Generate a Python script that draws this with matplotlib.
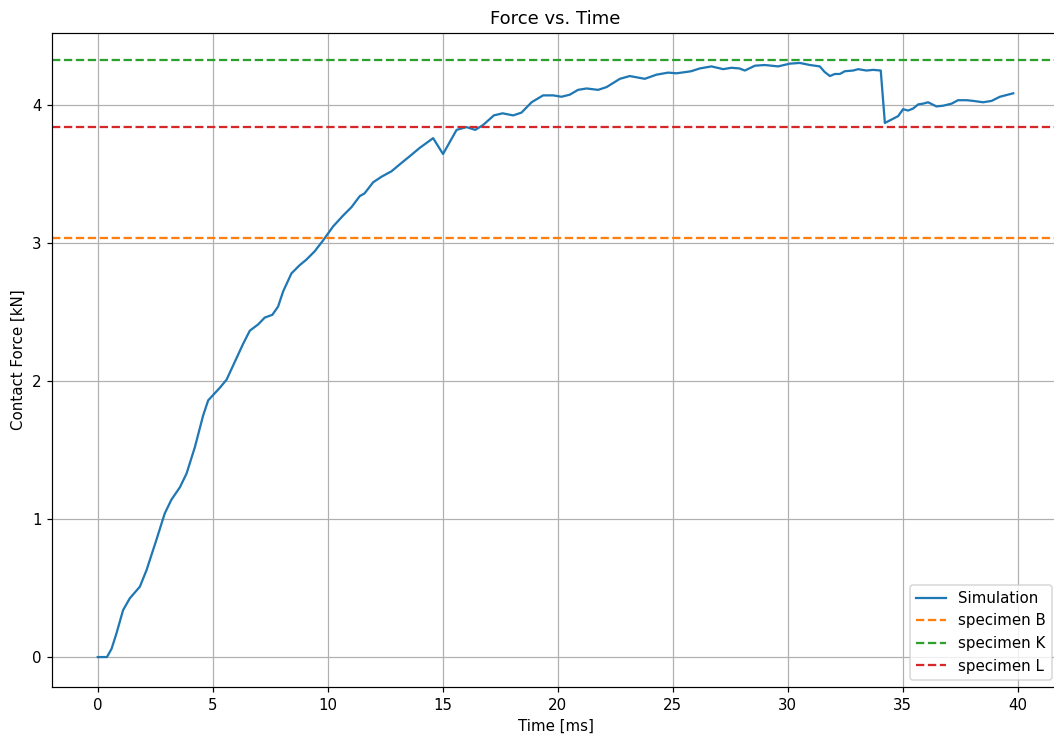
import matplotlib.pyplot as plt
import numpy as np

# simulated contact force over time
time_ms = [0.0, 0.4, 0.6, 0.81, 1.1, 1.39, 1.83, 2.12, 2.55, 2.91, 3.2, 3.57, 3.86,
           4.22, 4.58, 4.8, 5.3, 5.6, 5.96, 6.32, 6.61, 6.97, 7.26, 7.59, 7.84,
           8.06, 8.42, 8.78, 9.07, 9.43, 9.8, 10.23, 10.67, 11.03, 11.39, 11.6,
           11.97, 12.33, 12.77, 13.2, 13.57, 14.0, 14.58, 15.01, 15.6, 16.03,
           16.41, 16.75, 17.22, 17.6, 18.06, 18.42, 18.86, 19.36, 19.8, 20.16,
           20.52, 20.88, 21.25, 21.75, 22.12, 22.7, 23.13, 23.78, 24.29, 24.8,
           25.16, 25.6, 25.8, 26.17, 26.68, 27.19, 27.55, 27.9, 28.13, 28.57,
           29.0, 29.58, 30.09, 30.52, 30.96, 31.39, 31.6, 31.83, 32.04, 32.26,
           32.48, 32.84, 33.06, 33.42, 33.71, 34.04, 34.22, 34.8, 35.01, 35.23,
           35.45, 35.67, 35.88, 36.1, 36.46, 36.75, 37.12, 37.4, 37.77, 38.06,
           38.49, 38.86, 39.22, 39.8]
force_kn = [0.0, 0.0, 0.06, 0.17, 0.34, 0.425, 0.51, 0.63, 0.85, 1.04, 1.14, 1.23, 1.33,
            1.52, 1.75, 1.86, 1.95, 2.01, 2.14, 2.27, 2.365, 2.41, 2.46, 2.48, 2.54,
            2.65, 2.78, 2.84, 2.88, 2.94, 3.02, 3.12, 3.2, 3.26, 3.34, 3.36,
            3.44, 3.48, 3.52, 3.58, 3.63, 3.69, 3.76, 3.645, 3.82, 3.84,
            3.82, 3.855, 3.925, 3.94, 3.925, 3.945, 4.02, 4.07, 4.07, 4.06,
            4.075, 4.11, 4.12, 4.11, 4.13, 4.19, 4.21, 4.19, 4.22, 4.235,
            4.23, 4.24, 4.245, 4.265, 4.28, 4.26, 4.27, 4.265, 4.25, 4.285,
            4.29, 4.28, 4.3, 4.305, 4.29, 4.28, 4.24, 4.21, 4.225, 4.225,
            4.245, 4.25, 4.26, 4.25, 4.255, 4.25, 3.87, 3.92, 3.97, 3.96,
            3.975, 4.005, 4.01, 4.02, 3.99, 3.995, 4.01, 4.035, 4.035, 4.03,
            4.02, 4.03, 4.06, 4.085]

# measured peak forces of the test specimens
specimen_names = ['specimen B', 'specimen K', 'specimen L']
specimen_force = [3.04, 4.326, 3.841]
specimen_colors = ['tab:orange', 'tab:green', 'tab:red']

DPI = 108
fig = plt.figure(figsize=(1054 / DPI, 736 / DPI), dpi=DPI)
# right edge of the axes runs a little past the canvas
ax = fig.add_axes([52 / 1054, 1 - 687 / 736, 1007 / 1054, 654 / 736])

ax.plot(time_ms, force_kn, color='tab:blue', label='Simulation')
for name, f, c in zip(specimen_names, specimen_force, specimen_colors):
    ax.axhline(f, color=c, linestyle='--', label=name)

ax.set_xlim(-1.99, 41.79)
ax.set_ylim(-0.217, 4.522)
ax.set_xticks(np.arange(0, 45, 5))
ax.set_yticks(np.arange(0, 5, 1))
ax.grid(True)
ax.set_title('Force vs. Time', x=(555 - 52) / 1007)
ax.set_xlabel('Time [ms]')
ax.set_ylabel('Contact Force [kN]')
ax.legend(loc='lower right')

fig.savefig('out.png', dpi=DPI)
